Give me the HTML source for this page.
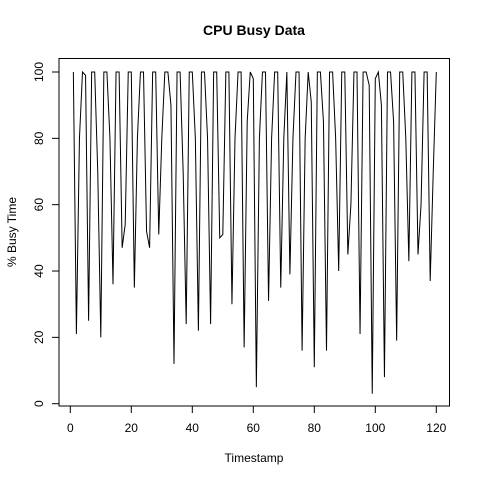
<!DOCTYPE html>
<html><head><meta charset="utf-8"><style>
body{margin:0;background:#fff}
svg{display:block;font-family:"Liberation Sans",sans-serif}
</style></head><body>
<svg id="c" width="480" height="480">
<rect width="480" height="480" fill="#fff"/>
<text x="254" y="35" text-anchor="middle" font-size="14" font-weight="bold">CPU Busy Data</text>
<rect x="59" y="58.5" width="390.5" height="347.5" fill="none" stroke="#000" stroke-width="1"/>
<g id="xa"></g>
<g id="ya"></g>
<text x="254" y="462" text-anchor="middle" font-size="12">Timestamp</text>
<text transform="translate(16,232) rotate(-90)" text-anchor="middle" font-size="12">% Busy Time</text>
</svg>
<script>
const busyValues=[100,21,80,100,99,25,100,100,70,20,100,100,80,36,100,100,47,54,100,100,35,80,100,100,52,47,100,100,51,80,100,100,90,12,100,100,70,24,100,100,80,22,100,100,80,24,100,100,50,51,100,100,30,80,100,100,17,85,100,98,5,80,100,100,31,80,100,100,35,80,100,39,80,100,100,16,80,100,91,11,100,100,85,16,100,100,80,40,100,100,45,60,100,100,21,100,100,96,3,98,100,90,8,100,100,85,19,100,100,80,43,100,100,45,60,100,100,37,70,100];
const xTicks=[0,20,40,60,80,100,120];
const yTicks=[0,20,40,60,80,100];
const NS="http://www.w3.org/2000/svg";
const svg=document.getElementById('c');
function X(t){return 70.3+t*3.05;}
function Y(v){return 403.7-v*3.317;}
const xa=document.getElementById('xa'),ya=document.getElementById('ya');
function mk(tag,attrs,parent){const e=document.createElementNS(NS,tag);for(const k in attrs)e.setAttribute(k,attrs[k]);parent.appendChild(e);return e;}
xTicks.forEach(t=>{
  const l=mk('line',{x1:X(t),x2:X(t),y1:406,y2:413,stroke:'#000'},xa);
  
  
  const tx=mk('text',{x:X(t),y:432,'text-anchor':'middle','font-size':12},xa);
  tx.textContent=t;
  
  
});
yTicks.forEach(v=>{
  const l=mk('line',{x1:52,x2:59,y1:Y(v),y2:Y(v),stroke:'#000'},ya);
  
  
  const tx=mk('text',{transform:`translate(43,${Y(v)}) rotate(-90)`,'text-anchor':'middle','font-size':12},ya);
  tx.textContent=v;
  
  
});
const pts=busyValues.map((v,i)=>X(i+1).toFixed(2)+','+Y(v).toFixed(2)).join(' ');
const line=mk('polyline',{points:pts,fill:'none',stroke:'#000','stroke-width':1},svg);


</script>
</body></html>
